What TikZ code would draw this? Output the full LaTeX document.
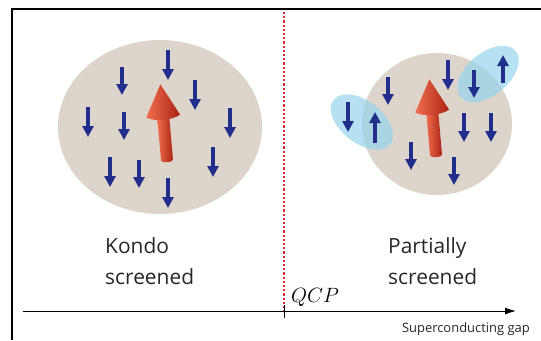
\documentclass[tikz,border=0pt]{standalone}
\usepackage{fontspec}
\setsansfont{Open Sans}
\usepackage{tikz}
\usetikzlibrary{arrows.meta}
\definecolor{cloudtan}{RGB}{221,213,203}
\definecolor{pairblue}{RGB}{150,212,236}
\definecolor{spinblue}{RGB}{34,46,140}
\definecolor{impred}{RGB}{222,66,38}
\definecolor{impredlight}{RGB}{240,110,80}
\definecolor{impreddark}{RGB}{170,35,20}
\definecolor{qcpred}{RGB}{212,40,50}

\begin{document}
\begin{tikzpicture}[x=1bp,y=-1bp,>=Latex,
  spin/.style={spinblue,line width=3.6bp,-{Triangle[width=11bp,length=11bp]}},
  pair/.style={fill=pairblue,fill opacity=.7},
  phase/.style={font=\sffamily\fontsize{21}{31}\selectfont,text=black!85,align=left,inner sep=0pt}]
\useasboundingbox (0,0) rectangle (541,340);
\draw[line width=2.6bp] (12,340)--(12,9)--(541,9);
% screening clouds
\fill[cloudtan] (160,127) ellipse [x radius=102,y radius=87];
\fill[cloudtan] (437,124) ellipse [x radius=75,y radius=71];
\fill[pair,rotate around={-38:(362,122)}] (362,122) ellipse [x radius=36,y radius=21];
\fill[pair,rotate around={40:(488,74)}] (488,74) ellipse [x radius=36,y radius=21];
% impurity spins
\foreach \x/\y in {167/160,436/155}{
 \begin{scope}[shift={(\x,\y)},rotate=5]
  \shade[left color=impredlight,middle color=impred,right color=impreddark]
   (-6,-46)--(-6,0) .. controls (-6,3) and (6,3) .. (6,0)--(6,-46)--cycle;
  \shade[left color=impredlight,middle color=impred,right color=impreddark]
   (-17,-44)--(0,-76)--(17,-44) .. controls (8,-39) and (-8,-39) .. (-17,-44)--cycle;
 \end{scope}}
% conduction electron spins
\foreach \x/\a/\b in {168/50/80,122/67/95,195/80/110,88/107/137,124/112/140,
  230/108/138,110/157/187,139/160/188,213/147/177,168/178/208,
  348/102/132,375/143/112,388/77/105,448/60/90,474/70/98,503/83/55,
  464/113/142,491/113/142,411/142/170,454/157/185}
 \draw[spin] (\x,\a)--(\x,\b);
% phase axis
\coordinate (ax0) at (23,311);
\coordinate (ax1) at (516,311);
\coordinate (qcptop) at (284,12);
\coordinate (qcpbot) at (284,311);
\draw[qcpred,line width=2.4bp,dash pattern=on 2.2bp off 2bp] (qcptop)--(qcpbot);
\draw[-{Latex[length=11bp,width=7bp]},line width=.9bp] (ax0)--(ax1);
\draw[line width=.9bp] (284,305)--(284,318);
\node[phase,anchor=base west] (kondo) at (105,284) {Kondo\\screened};
\node[phase,anchor=base west] (partial) at (388,284) {Partially\\screened};
\node[anchor=base west,inner sep=0pt,font=\fontsize{22}{22}\selectfont] (qcp) at (291,302) {$QCP$};
\node[anchor=base east,inner sep=0pt,font=\sffamily\fontsize{13}{13}\selectfont,text=black!85] (gap) at (530,332) {Superconducting gap};
\end{tikzpicture}
\end{document}
